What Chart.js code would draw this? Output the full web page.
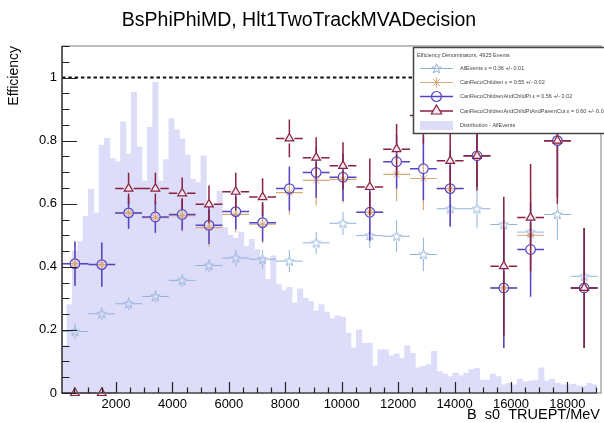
<!DOCTYPE html>
<html lang="en">
<head>
<meta charset="UTF-8">
<title>BsPhiPhiMD, Hlt1TwoTrackMVADecision</title>
<script src="https://cdn.jsdelivr.net/npm/chart.js"></script>
<style>
    html, body { margin: 0; padding: 0; background: #fff; }
    #wrap { width: 604px; height: 423px; }
</style>
</head>
<body>
<div id="wrap"><canvas id="effChart" width="604" height="423"></canvas></div>
<script>
// efficiency bins (B_s0 true pT, MeV)
const binCenters = [545, 1495, 2445, 3395, 4345, 5295, 6245, 7195, 8145, 9095,
                    10045, 10995, 11945, 12895, 13845, 14795, 15745, 16695, 17645, 18595];
const binHalfWidth = 475;

const allEvents    = [0.195, 0.251, 0.283, 0.306, 0.357, 0.404, 0.428, 0.424, 0.418, 0.476,
                      0.538, 0.499, 0.497, 0.439, 0.584, 0.584, 0.534, 0.510, 0.566, 0.370];
const allEventsErr = [0.025, 0.02, 0.02, 0.02, 0.02, 0.02, 0.025, 0.03, 0.035, 0.035,
                      0.037, 0.04, 0.05, 0.053, 0.058, 0.06, 0.07, 0.07, 0.08, 0.06];

const recoChildren    = [0.41, 0.407, 0.571, 0.556, 0.562, 0.524, 0.566, 0.535, 0.635, 0.674,
                         0.677, 0.573, 0.693, 0.68, 0.648, 0.752, 0.333, 0.50, 0.80, 0.333];
const recoChildrenErr = [0.07, 0.07, 0.05, 0.05, 0.05, 0.06, 0.057, 0.06, 0.07, 0.08,
                         0.075, 0.09, 0.085, 0.1, 0.12, 0.1, 0.19, 0.15, 0.18, 0.19];

const childPt    = [0.41, 0.407, 0.571, 0.558, 0.566, 0.532, 0.575, 0.54, 0.648, 0.699,
                    0.684, 0.573, 0.733, 0.711, 0.648, 0.752, 0.333, 0.455, 0.80, 0.333];
const childPtErr = [0.07, 0.07, 0.05, 0.05, 0.05, 0.06, 0.057, 0.06, 0.07, 0.08,
                    0.075, 0.09, 0.085, 0.1, 0.12, 0.1, 0.19, 0.15, 0.18, 0.19];

const parentCut    = [0, 0, 0.648, 0.648, 0.633, 0.598, 0.638, 0.621, 0.807, 0.746,
                      0.72, 0.653, 0.773, 0.88, 0.736, 0.752, 0.402, 0.556, 0.80, 0.333];
const parentCutErr = [0, 0, 0.05, 0.05, 0.05, 0.06, 0.06, 0.06, 0.06, 0.065,
                      0.075, 0.09, 0.08, 0.09, 0.1, 0.11, 0.22, 0.17, 0.2, 0.19];

// normalised pT distribution, 100 bins
const histStart = 70;
const histWidth = 190;
const histValues = [
    0.15, 0.28, 0.45, 0.48, 0.56, 0.646, 0.57, 0.786, 0.807, 0.743,
    0.733, 0.86, 0.757, 0.953, 0.78, 0.672, 0.842, 0.985, 0.672, 0.74,
    0.87, 0.834, 0.805, 0.754, 0.677, 0.667, 0.752, 0.60, 0.60, 0.64,
    0.524, 0.50, 0.49, 0.51, 0.465, 0.487, 0.455, 0.43, 0.36, 0.435,
    0.345, 0.325, 0.335, 0.285, 0.33, 0.30, 0.29, 0.26, 0.28, 0.256,
    0.235, 0.245, 0.24, 0.19, 0.143, 0.2, 0.158, 0.158, 0.086, 0.137,
    0.137, 0.118, 0.124, 0.11, 0.15, 0.126, 0.08, 0.085, 0.09, 0.132,
    0.068, 0.06, 0.052, 0.063, 0.055, 0.063, 0.075, 0.078, 0.041, 0.041,
    0.06, 0.052, 0.026, 0.031, 0.026, 0.044, 0.035, 0.038, 0.04, 0.08,
    0.038, 0.044, 0.031, 0.026, 0.026, 0.028, 0.022, 0.022, 0.031, 0.026
];

const xTicks = [2000, 4000, 6000, 8000, 10000, 12000, 14000, 16000, 18000];
const yTicks = [0, 0.2, 0.4, 0.6, 0.8, 1];

const legendHeader = 'Efficiency Denominators, 4925 Events';
const legendLabels = [
    'AllEvents ε = 0.36 +/- 0.01',
    'CanRecoChildren ε = 0.55 +/- 0.02',
    'CanRecoChildrenAndChildPt ε = 0.56 +/- 0.02',
    'CanRecoChildrenAndChildPtAndParentCut ε = 0.60 +/- 0.02',
    'Distribution - AllEvents'
];

const FONT = '"Liberation Sans", Arial, Helvetica, sans-serif';
const COL_ALL = '#90b2d9';
const COL_RECO = '#d8a878';
const COL_PT = '#5444c8';
const COL_CUT = '#88223f';
const COL_HIST = '#dddcf9';

function makeStar(color) {
    const c = document.createElement('canvas');
    c.width = 13; c.height = 13;
    const g = c.getContext('2d');
    g.strokeStyle = color;
    g.lineWidth = 1;
    g.beginPath();
    for (let i = 0; i < 10; i++) {
        const r = i % 2 === 0 ? 5 : 2.2;
        const a = -Math.PI / 2 + i * Math.PI / 5;
        const px = 6.5 + r * Math.cos(a), py = 6.8 + r * Math.sin(a);
        if (i === 0) g.moveTo(px, py); else g.lineTo(px, py);
    }
    g.closePath();
    g.stroke();
    return c;
}
const starImg = makeStar(COL_ALL);

function points(vals) {
    return vals.map((v, i) => ({x: binCenters[i], y: v}));
}

// error bars drawn just before each series' markers, with a gap round the marker
const errorBars = {
    id: 'errorBars',
    beforeDatasetDraw(chart, args) {
        const ds = chart.data.datasets[args.index];
        if (!ds.errors) return;
        const xs = chart.scales.x, ys = chart.scales.y;
        const g = chart.ctx;
        const gap = ds.errGap;
        g.save();
        g.strokeStyle = ds.errColor;
        g.lineWidth = ds.errWidth;
        ds.data.forEach((p, i) => {
            const e = ds.errors[i];
            const xc = xs.getPixelForValue(p.x), yc = ys.getPixelForValue(p.y);
            const x0 = xs.getPixelForValue(p.x - binHalfWidth);
            const x1 = xs.getPixelForValue(p.x + binHalfWidth);
            const yHi = ys.getPixelForValue(Math.min(1, p.y + e));
            const yLo = ys.getPixelForValue(Math.max(0, p.y - e));
            g.beginPath();
            g.moveTo(x0, yc); g.lineTo(xc - gap, yc);
            g.moveTo(xc + gap, yc); g.lineTo(x1, yc);
            if (yc - yHi > gap) { g.moveTo(xc, yHi); g.lineTo(xc, yc - gap); }
            if (yLo - yc > gap) { g.moveTo(xc, yc + gap); g.lineTo(xc, yLo); }
            g.stroke();
        });
        g.restore();
    },
    afterDatasetDraw(chart, args) {
        // dashed line at efficiency 1, over the histogram
        if (args.index !== 0) return;
        const {left, right} = chart.chartArea;
        const y = chart.scales.y.getPixelForValue(1);
        const g = chart.ctx;
        g.save();
        g.strokeStyle = '#111';
        g.lineWidth = 2;
        g.setLineDash([3.5, 2.8]);
        g.beginPath();
        g.moveTo(left, y); g.lineTo(right, y);
        g.stroke();
        g.restore();
    }
};

// ROOT style frame and inward ticks
const frameTicks = {
    id: 'frameTicks',
    afterDatasetsDraw(chart) {
        const {left, right, top, bottom} = chart.chartArea;
        const xs = chart.scales.x, ys = chart.scales.y;
        const g = chart.ctx;
        g.save();
        g.strokeStyle = '#9a9a9a';
        g.lineWidth = 1.3;
        g.strokeRect(left, top, right - left + 4, bottom - top);
        g.strokeStyle = '#222';
        g.lineWidth = 1.2;
        g.beginPath();
        g.moveTo(left, top); g.lineTo(left, bottom); g.lineTo(right, bottom);
        for (let v = 0; v <= 1.1001; v += 0.05) {
            const y = Math.round(ys.getPixelForValue(v)) + 0.5;
            const major = Math.abs(v / 0.2 - Math.round(v / 0.2)) < 1e-6;
            g.moveTo(left, y); g.lineTo(left + (major ? 15 : 7.5), y);
        }
        for (let v = 500; v <= 19000; v += 500) {
            const x = Math.round(xs.getPixelForValue(v)) + 0.5;
            const major = v % 2000 === 0;
            g.moveTo(x, bottom); g.lineTo(x, bottom - (major ? 11 : 5.5));
        }
        g.stroke();
        g.restore();
    }
};

function drawMarker(g, kind, x, y) {
    g.save();
    if (kind === 'star') {
        g.drawImage(starImg, x - 6.5, y - 6.5);
    } else if (kind === 'asterisk') {
        g.strokeStyle = COL_RECO; g.lineWidth = 1;
        g.beginPath();
        for (let k = 0; k < 4; k++) {
            const a = k * Math.PI / 4;
            g.moveTo(x - 5 * Math.cos(a), y - 5 * Math.sin(a));
            g.lineTo(x + 5 * Math.cos(a), y + 5 * Math.sin(a));
        }
        g.stroke();
    } else if (kind === 'circle') {
        g.strokeStyle = COL_PT; g.lineWidth = 1.2;
        g.beginPath(); g.arc(x, y, 5, 0, Math.PI * 2); g.stroke();
    } else if (kind === 'triangle') {
        g.strokeStyle = COL_CUT; g.fillStyle = '#f6e6ee'; g.lineWidth = 1.2;
        g.beginPath();
        g.moveTo(x, y - 6); g.lineTo(x + 5.2, y + 3); g.lineTo(x - 5.2, y + 3);
        g.closePath(); g.fill(); g.stroke();
    }
    g.restore();
}

// titles, axis titles and the legend box
const annotations = {
    id: 'annotations',
    afterDraw(chart) {
        const g = chart.ctx;
        const {top} = chart.chartArea;
        g.save();
        g.fillStyle = '#000';
        g.font = '19.5px ' + FONT;
        g.textAlign = 'center';
        g.textBaseline = 'alphabetic';
        g.fillText('BsPhiPhiMD, Hlt1TwoTrackMVADecision', 299, 26);

        g.font = '14.5px ' + FONT;
        g.textAlign = 'right';
        g.fillText('B  s0  TRUEPT/MeV', 600, 419);

        g.save();
        g.font = '14px ' + FONT;
        g.translate(18, top);
        g.rotate(-Math.PI / 2);
        g.textAlign = 'right';
        g.fillText('Efficiency', 0, 0);
        g.restore();

        // legend
        const lx = 413, ly = 47, lw = 192, lh = 86;
        g.fillStyle = '#fff';
        g.fillRect(lx, ly, lw, lh);
        g.strokeStyle = '#444';
        g.lineWidth = 1.5;
        g.strokeRect(lx + 0.5, ly + 0.5, lw, lh);
        g.fillStyle = '#444';
        g.font = '5.5px ' + FONT;
        g.textAlign = 'left';
        g.textBaseline = 'middle';
        g.fillText(legendHeader, 417, 55);
        const rowY = [68.5, 82.5, 96.5, 111, 125];
        const kinds = ['star', 'asterisk', 'circle', 'triangle'];
        const cols = [COL_ALL, COL_RECO, COL_PT, COL_CUT];
        const widths = [1, 1.2, 1.5, 1.5];
        kinds.forEach((k, i) => {
            g.strokeStyle = cols[i];
            g.lineWidth = widths[i];
            g.beginPath();
            g.moveTo(420, rowY[i]); g.lineTo(453, rowY[i]);
            g.stroke();
            drawMarker(g, k, 436.5, rowY[i]);
        });
        g.fillStyle = COL_HIST;
        g.fillRect(420, 121, 33, 9);
        g.fillStyle = '#444';
        legendLabels.forEach((t, i) => g.fillText(t, 460, rowY[i]));
        g.restore();
    }
};

new Chart(document.getElementById('effChart'), {
    type: 'scatter',
    data: {
        datasets: [
            {
                type: 'bar',
                label: 'Distribution - AllEvents',
                data: histValues.map((v, i) => ({x: histStart + histWidth * (i + 0.5), y: v})),
                backgroundColor: COL_HIST,
                borderWidth: 0,
                barPercentage: 1.0,
                categoryPercentage: 1.0,
                grouped: false,
                order: 10
            },
            {
                label: 'AllEvents',
                data: points(allEvents),
                errors: allEventsErr, errColor: COL_ALL, errWidth: 1, errGap: 4.5,
                pointStyle: starImg,
                pointRadius: 6,
                order: 4, clip: false
            },
            {
                label: 'CanRecoChildren',
                data: points(recoChildren),
                errors: recoChildrenErr, errColor: COL_RECO, errWidth: 1.2, errGap: 0,
                pointStyle: 'star',
                pointRadius: 4.5,
                borderColor: COL_RECO,
                borderWidth: 1,
                order: 3, clip: false
            },
            {
                label: 'CanRecoChildrenAndChildPt',
                data: points(childPt),
                errors: childPtErr, errColor: COL_PT, errWidth: 1.5, errGap: 5,
                pointStyle: 'circle',
                pointRadius: 4.8,
                borderColor: COL_PT,
                backgroundColor: 'rgba(0,0,0,0)',
                borderWidth: 1.2,
                order: 2, clip: false
            },
            {
                label: 'CanRecoChildrenAndChildPtAndParentCut',
                data: points(parentCut),
                errors: parentCutErr, errColor: COL_CUT, errWidth: 1.5, errGap: 5,
                pointStyle: 'triangle',
                pointRadius: 5,
                borderColor: COL_CUT,
                backgroundColor: '#f6e6ee',
                borderWidth: 1.2,
                order: 1, clip: false
            }
        ]
    },
    options: {
        responsive: false,
        animation: false,
        devicePixelRatio: 1,
        events: [],
        layout: { padding: { top: 46, left: 0, right: 0, bottom: 0 } },
        plugins: {
            legend: { display: false },
            tooltip: { enabled: false },
            title: { display: false }
        },
        scales: {
            x: {
                type: 'linear',
                min: 85,
                max: 19049,
                offset: false,
                grid: { display: false, drawTicks: false },
                border: { display: false },
                afterBuildTicks: s => { s.ticks = xTicks.map(v => ({value: v})); },
                afterFit: s => { s.height = 30; },
                ticks: {
                    padding: 4,
                    color: '#000',
                    maxRotation: 0,
                    autoSkip: false,
                    font: { family: FONT, size: 13 },
                    callback: v => String(v)
                }
            },
            y: {
                type: 'linear',
                min: 0,
                max: 1.1,
                grid: { display: false, drawTicks: false },
                border: { display: false },
                afterBuildTicks: s => { s.ticks = yTicks.map(v => ({value: v})); },
                afterFit: s => { s.width = 62; },
                ticks: {
                    padding: 5,
                    color: '#000',
                    font: { family: FONT, size: 13 },
                    callback: v => String(v)
                }
            }
        }
    },
    plugins: [errorBars, frameTicks, annotations]
});
</script>
</body>
</html>
